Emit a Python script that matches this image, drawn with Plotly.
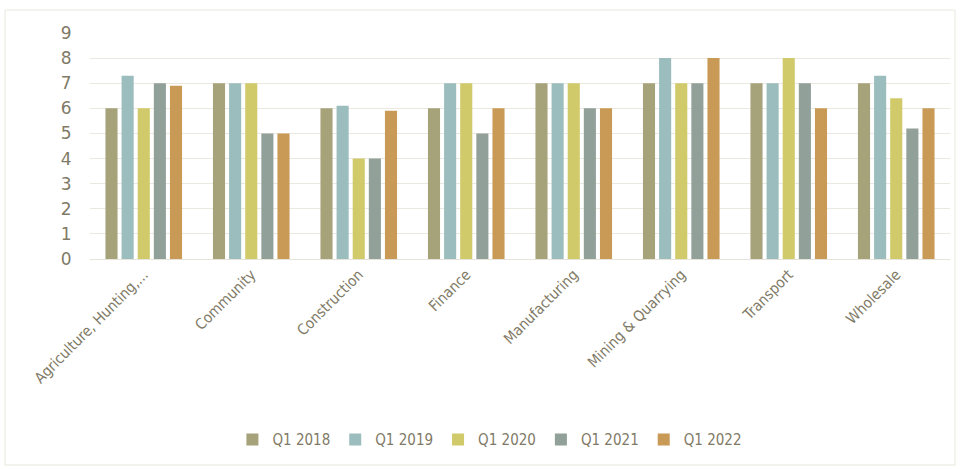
import plotly.graph_objects as go

categories = ["Agriculture, Hunting,...", "Community", "Construction", "Finance",
              "Manufacturing", "Mining & Quarrying", "Transport", "Wholesale"]
series_names = ["Q1 2018", "Q1 2019", "Q1 2020", "Q1 2021", "Q1 2022"]
q1_2018 = [6, 7, 6, 6, 7, 7, 7, 7]
q1_2019 = [7.3, 7, 6.1, 7, 7, 8, 7, 7.3]
q1_2020 = [6, 7, 4, 7, 7, 7, 8, 6.4]
q1_2021 = [7, 5, 4, 5, 6, 7, 7, 5.2]
q1_2022 = [6.9, 5, 5.9, 6, 6, 8, 6, 6]
y_ticks = list(range(0, 10))

values = [q1_2018, q1_2019, q1_2020, q1_2021, q1_2022]
colors = ["#a6a27a", "#9cbdbd", "#d1ca6b", "#92a09a", "#c99a56"]

fig = go.Figure()
for name, vals, col in zip(series_names, values, colors):
    fig.add_trace(go.Bar(x=categories, y=vals, name=name, marker_color=col,
                         marker_line_width=0))

text_col = "#7f7a66"
fig.update_layout(
    width=961, height=469,
    margin=dict(l=90, r=11, t=33, b=210),
    paper_bgcolor="white", plot_bgcolor="white",
    barmode="group", bargap=0.25, bargroupgap=0.25,
    font=dict(family="DejaVu Sans Condensed, Liberation Sans, sans-serif", color=text_col, size=15),
    showlegend=True,
    legend=dict(orientation="h", x=0.465, xanchor="center", y=-0.80, yanchor="middle",
                font=dict(size=15, color=text_col), itemwidth=30),
    xaxis=dict(tickangle=-45, showgrid=False, showline=True, linecolor="#e6e3da",
               tickfont=dict(size=15, color=text_col), ticks=""),
    yaxis=dict(range=[0, 9], tickvals=y_ticks, showgrid=True, gridcolor="#ebe8e0",
               gridwidth=1, zeroline=False,
               tickfont=dict(size=17, color=text_col, family="DejaVu Sans, sans-serif"),
               ticks="outside", ticklen=14, tickcolor="rgba(0,0,0,0)", showline=False),
    shapes=[dict(type="rect", xref="paper", yref="paper",
                 x0=(5 - 90) / 860, x1=(955 - 90) / 860,
                 y0=(259 - 465) / 226, y1=(259 - 10) / 226,
                 line=dict(color="#e8e6dc", width=1), fillcolor="rgba(0,0,0,0)", layer="below")],
)
fig.write_html("out.html")
